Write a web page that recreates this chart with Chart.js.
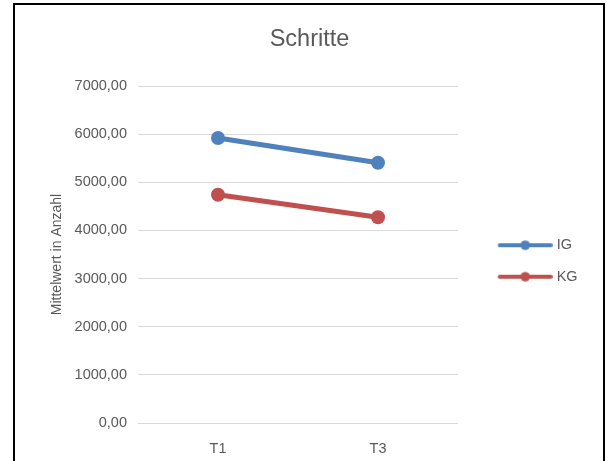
<!DOCTYPE html>
<html>
<head>
<meta charset="utf-8">
<script src="https://cdn.jsdelivr.net/npm/chart.js@4/dist/chart.umd.min.js"></script>
<style>
  html, body { margin: 0; padding: 0; background: #ffffff; overflow: hidden; }
  #wrap { position: relative; width: 608px; height: 461px; }
  #chart { position: absolute; left: 0; top: 0; }
  #frame {
    position: absolute; left: 13px; top: 3px; width: 588px; height: 500px;
    border: 2px solid #000000; pointer-events: none;
  }
</style>
</head>
<body>
<div id="wrap">
  <canvas id="chart" width="608" height="461"></canvas>
  <div id="frame"></div>
</div>
<script>
// Mean step counts per group and time point
const categories = ['T1', 'T3'];
const seriesNames = ['IG', 'KG'];
const igValues = [5920, 5405];
const kgValues = [4740, 4275];
const yTicks = [0, 1000, 2000, 3000, 4000, 5000, 6000, 7000];

const chartTitle = 'Schritte';
const yAxisTitle = 'Mittelwert in Anzahl';

const BLUE = '#4F81BD';
const RED = '#C0504D';
const TEXT = '#595959';
const GRID = '#D9D9D9';

Chart.defaults.font.family = "'Liberation Sans', Arial, sans-serif";
Chart.defaults.color = TEXT;

// Legend sample: a short line with a dot in its middle
function makeLegendMark(color) {
  const c = document.createElement('canvas');
  c.width = 81; c.height = 12;
  const g = c.getContext('2d');
  g.strokeStyle = color;
  g.lineWidth = 4;
  g.lineCap = 'round';
  g.beginPath();
  g.moveTo(28, 6);
  g.lineTo(79, 6);
  g.stroke();
  g.fillStyle = color;
  g.beginPath();
  g.arc(53.5, 6, 4.8, 0, Math.PI * 2);
  g.fill();
  return c;
}
const legendMarks = [makeLegendMark(BLUE), makeLegendMark(RED)];

const formatDe = v => Number(v).toFixed(2).replace('.', ',');

new Chart(document.getElementById('chart'), {
  type: 'line',
  data: {
    labels: categories,
    datasets: [
      {
        label: seriesNames[0],
        data: igValues,
        borderColor: BLUE,
        backgroundColor: BLUE,
        borderWidth: 5,
        pointRadius: 7,
        pointHoverRadius: 7,
        pointBorderWidth: 0,
        pointBackgroundColor: BLUE,
        tension: 0
      },
      {
        label: seriesNames[1],
        data: kgValues,
        borderColor: RED,
        backgroundColor: RED,
        borderWidth: 5,
        pointRadius: 7,
        pointHoverRadius: 7,
        pointBorderWidth: 0,
        pointBackgroundColor: RED,
        tension: 0
      }
    ]
  },
  options: {
    responsive: false,
    animation: false,
    devicePixelRatio: 1,
    layout: { padding: { left: 31.35, right: 20.35, top: 0, bottom: 0 } },
    plugins: {
      tooltip: { enabled: false },
      title: {
        display: true,
        text: chartTitle,
        color: TEXT,
        font: { size: 23.5, weight: 'normal' },
        padding: { top: 25, bottom: 32.8 }
      },
      legend: {
        display: true,
        position: 'right',
        // empty title only reserves space above the entries
        title: { display: true, text: '', font: { size: 5 }, padding: 27.5 },
        labels: {
          usePointStyle: true,
          pointStyleWidth: 74.45,
          padding: 17,
          color: TEXT,
          font: { size: 14.5 },
          generateLabels(chart) {
            const items = Chart.defaults.plugins.legend.labels.generateLabels(chart);
            items.forEach(it => { it.pointStyle = legendMarks[it.datasetIndex]; });
            return items;
          }
        }
      }
    },
    scales: {
      x: {
        type: 'category',
        offset: true,
        grid: { display: false },
        border: { display: false },
        ticks: { color: TEXT, font: { size: 14.5 }, padding: 9 },
        afterFit(scale) { scale.height = 38; }
      },
      y: {
        min: yTicks[0],
        max: yTicks[yTicks.length - 1],
        afterBuildTicks(scale) { scale.ticks = yTicks.map(v => ({ value: v })); },
        grid: { color: GRID, lineWidth: 1, drawTicks: false },
        border: { display: false },
        ticks: { color: TEXT, font: { size: 14.5 }, padding: 11, callback: v => formatDe(v) },
        title: {
          display: true,
          text: yAxisTitle,
          color: TEXT,
          font: { size: 14 },
          padding: { top: 17.5, bottom: 0 }
        },
        afterFit(scale) { scale.width = 106.65; }
      }
    }
  }
});
</script>
</body>
</html>
